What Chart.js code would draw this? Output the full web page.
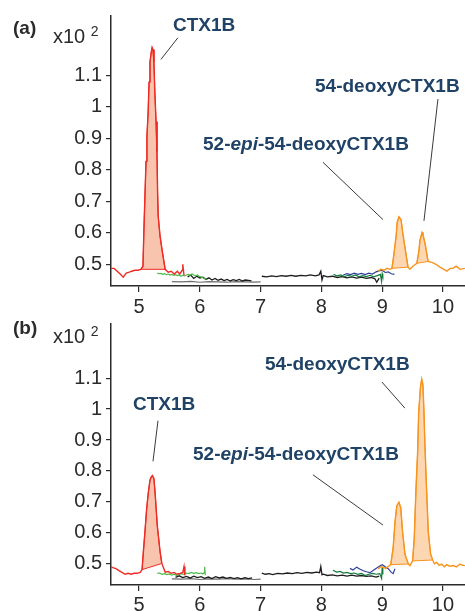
<!DOCTYPE html>
<html><head><meta charset="utf-8">
<script src="https://cdn.jsdelivr.net/npm/chart.js@4/dist/chart.umd.min.js"></script>
<style>
html,body{margin:0;padding:0;background:#fff;}
#wrap{position:relative;width:465px;height:611px;overflow:hidden;font-family:"Liberation Sans",Arial,sans-serif;}
canvas{position:absolute;left:0;}
.lbl{position:absolute;white-space:nowrap;line-height:1;}
.ann{font-weight:bold;font-size:19px;color:#1f4266;}
.pan{font-weight:bold;font-size:19px;color:#2b2b2b;}
.mult{font-size:20px;color:#2b2b2b;}
.mult span{font-size:14px;position:relative;top:-7px;}
</style></head>
<body>
<div id="wrap">
<canvas id="cA" width="465" height="320" style="top:0"></canvas>
<canvas id="cB" width="465" height="303" style="top:308px"></canvas>
<div class="lbl pan" style="left:13px;top:18px">(a)</div>
<div class="lbl mult" style="left:53px;top:26px">x10 <span>2</span></div>
<div class="lbl ann" style="left:173px;top:15px">CTX1B</div>
<div class="lbl ann" style="left:315px;top:76px">54-deoxyCTX1B</div>
<div class="lbl ann" style="left:203px;top:134px">52-<i>epi</i>-54-deoxyCTX1B</div>
<div class="lbl pan" style="left:13px;top:318px">(b)</div>
<div class="lbl mult" style="left:53px;top:326px">x10 <span>2</span></div>
<div class="lbl ann" style="left:133px;top:394px">CTX1B</div>
<div class="lbl ann" style="left:265px;top:354px">54-deoxyCTX1B</div>
<div class="lbl ann" style="left:193px;top:444px">52-<i>epi</i>-54-deoxyCTX1B</div>
</div>
<script>
// ---------- axis ticks ----------
const xTicks = [5, 6, 7, 8, 9, 10];
const yTicks = [0.5, 0.6, 0.7, 0.8, 0.9, 1.0, 1.1];

// ---------- panel (a) ----------
const redA_x = [4.54,4.59,4.64,4.69,4.74,4.79,4.84,4.88,4.93,4.98,5.03,5.065,5.08,5.10,5.115,5.13,5.15,5.165,5.18,5.20,5.215,5.23,5.245,5.26,5.28,5.295,5.305,5.315,5.345,5.38,5.43,5.48,5.53,5.58,5.63,5.67,5.71,5.72,5.74];
const redA_y = [0.487,0.487,0.478,0.469,0.459,0.472,0.475,0.478,0.481,0.481,0.484,0.494,0.607,0.733,0.827,0.906,0.984,1.079,1.142,1.173,1.189,1.182,1.142,1.047,0.953,0.858,0.733,0.654,0.591,0.544,0.484,0.475,0.478,0.469,0.478,0.469,0.481,0.5,0.465];
const redA_peaks = [[10, 30]];

const orangeA_x = [8.93,8.98,9.03,9.08,9.13,9.16,9.19,9.23,9.245,9.275,9.31,9.34,9.375,9.425,9.455,9.505,9.57,9.605,9.62,9.655,9.67,9.705,9.755,9.82,9.885,9.95,10.015,10.065,10.115,10.165,10.215,10.28,10.36];
const orangeA_y = [0.478,0.484,0.481,0.487,0.484,0.487,0.528,0.591,0.632,0.651,0.642,0.597,0.553,0.491,0.484,0.494,0.503,0.544,0.575,0.601,0.594,0.566,0.509,0.506,0.5,0.491,0.484,0.478,0.487,0.487,0.494,0.484,0.487];
const orangeA_peaks = [[5, 13], [16, 22]];

const greenA_x = [5.30,5.33,5.36,5.39,5.42,5.45,5.48,5.51,5.54,5.57,5.60,5.63,5.66,5.69,5.72,5.75,5.78,5.81,5.84,5.87,5.90,5.93,5.96,5.99,6.02,6.05,6.08,6.11];
const greenA_y = [0.472,0.470,0.471,0.468,0.470,0.467,0.469,0.466,0.468,0.465,0.467,0.464,0.466,0.462,0.465,0.463,0.466,0.468,0.465,0.469,0.466,0.463,0.466,0.462,0.460,0.457,0.455,0.452];

const blackFlatA_x = [5.54,5.70,5.85,6.00,6.15,6.30,6.45,6.60,6.75,6.90,7.00];
const blackFlatA_y = [0.445,0.444,0.446,0.443,0.445,0.444,0.443,0.445,0.444,0.443,0.444];

const blackNoisyA_x = [5.80,5.85,5.90,5.95,6.00,6.05,6.10,6.15,6.20,6.25,6.30,6.35,6.40,6.45,6.50,6.55,6.60,6.65,6.70,6.75,6.80,6.85];
const blackNoisyA_y = [0.460,0.466,0.455,0.462,0.456,0.459,0.452,0.457,0.450,0.455,0.449,0.453,0.448,0.452,0.447,0.451,0.448,0.452,0.447,0.450,0.449,0.447];

const blackA2_x = [7.02,7.10,7.18,7.26,7.34,7.42,7.50,7.58,7.66,7.74,7.82,7.90,7.96,7.99,8.01,8.03,8.10,8.18,8.26,8.34,8.42,8.50,8.58,8.66,8.74,8.82,8.88,8.91,8.95];
const blackA2_y = [0.462,0.460,0.463,0.461,0.464,0.462,0.465,0.462,0.465,0.463,0.466,0.463,0.466,0.478,0.450,0.464,0.460,0.462,0.458,0.461,0.457,0.460,0.456,0.459,0.455,0.458,0.454,0.443,0.456];

const darkGreenA_x = [8.20,8.26,8.32,8.38,8.44,8.50,8.56,8.62,8.68,8.74,8.80,8.86,8.92,8.97,8.99,9.00,9.01];
const darkGreenA_y = [0.468,0.463,0.466,0.461,0.465,0.462,0.466,0.460,0.464,0.461,0.465,0.460,0.464,0.468,0.445,0.470,0.462];

const blueA_x = [8.36,8.42,8.48,8.54,8.60,8.66,8.72,8.78,8.84,8.90,8.96,9.00,9.05,9.10,9.15,9.20];
const blueA_y = [0.466,0.470,0.467,0.472,0.468,0.471,0.467,0.472,0.469,0.476,0.480,0.481,0.474,0.476,0.470,0.468];

// leader lines (x1,y1,x2,y2 in data units)
const leadersA = [[5.64,1.220,5.36,1.151],[9.917,1.025,9.687,0.638],[8.026,0.824,9.013,0.642]];

// ---------- panel (b) ----------
const redB_x = [4.54,4.57,4.62,4.67,4.72,4.77,4.82,4.87,4.92,4.97,5.02,5.05,5.07,5.10,5.125,5.15,5.18,5.20,5.22,5.245,5.265,5.30,5.345,5.375,5.43,5.48,5.53,5.575,5.625,5.675,5.72,5.74,5.755];
const redB_y = [0.49,0.4875,0.484,0.478,0.472,0.466,0.469,0.466,0.469,0.469,0.472,0.481,0.535,0.61,0.676,0.725,0.77,0.78,0.785,0.775,0.728,0.624,0.541,0.501,0.473,0.475,0.469,0.472,0.466,0.469,0.472,0.491,0.4625];
const redB_peaks = [[11, 23]];

const orangeB_x = [8.935,8.975,9.017,9.06,9.10,9.14,9.18,9.21,9.24,9.275,9.305,9.335,9.375,9.43,9.457,9.50,9.527,9.555,9.583,9.60,9.63,9.65,9.67,9.687,9.703,9.72,9.758,9.797,9.83,9.86,9.896,9.94,9.978,10.02,10.06,10.11,10.17,10.22,10.28,10.32,10.36];
const orangeB_y = [0.483,0.49,0.488,0.485,0.491,0.497,0.551,0.634,0.687,0.699,0.681,0.603,0.53,0.499,0.494,0.509,0.582,0.738,0.863,0.988,1.072,1.097,1.078,0.991,0.884,0.791,0.603,0.531,0.512,0.50,0.504,0.495,0.499,0.49,0.497,0.492,0.494,0.49,0.499,0.495,0.494];
const orangeB_peaks = [[5, 13], [15, 28]];

const greenB_x = [5.30,5.34,5.38,5.42,5.46,5.50,5.54,5.58,5.62,5.66,5.70,5.74,5.78,5.82,5.86,5.90,5.94,5.98,6.02,6.05,6.07,6.08,6.09];
const greenB_y = [0.469,0.470,0.466,0.468,0.465,0.467,0.463,0.466,0.462,0.465,0.468,0.466,0.470,0.468,0.472,0.469,0.471,0.468,0.470,0.467,0.471,0.490,0.463];

const blackFlatB_x = [5.54,5.70,5.85,6.00,6.15,6.30,6.45,6.60,6.75,6.90,7.00];
const blackFlatB_y = [0.451,0.450,0.452,0.449,0.451,0.450,0.452,0.450,0.451,0.449,0.450];

const blackNoisyB_x = [5.60,5.66,5.72,5.78,5.84,5.90,5.96,6.02,6.08,6.14,6.20,6.26,6.32,6.38,6.44,6.50,6.56,6.62,6.68,6.74,6.80,6.86];
const blackNoisyB_y = [0.456,0.461,0.455,0.459,0.454,0.460,0.455,0.458,0.453,0.457,0.452,0.458,0.454,0.457,0.453,0.456,0.452,0.455,0.451,0.455,0.452,0.454];

const blackB2_x = [7.02,7.08,7.14,7.20,7.28,7.36,7.44,7.52,7.60,7.68,7.76,7.84,7.92,7.97,7.99,8.01,8.03,8.10,8.18,8.26,8.34,8.42,8.50,8.58,8.66,8.74,8.82,8.90,8.95];
const blackB2_y = [0.470,0.466,0.468,0.465,0.469,0.467,0.470,0.468,0.471,0.469,0.472,0.470,0.473,0.471,0.491,0.464,0.466,0.462,0.464,0.461,0.463,0.460,0.463,0.460,0.462,0.459,0.461,0.457,0.460];

const darkGreenB_x = [8.19,8.25,8.31,8.36,8.42,8.48,8.54,8.60,8.66,8.72,8.78,8.84,8.90,8.96,8.99,9.00,9.01];
const darkGreenB_y = [0.479,0.473,0.475,0.470,0.472,0.468,0.470,0.466,0.469,0.462,0.466,0.469,0.466,0.468,0.452,0.490,0.465];

const blueB_x = [8.47,8.52,8.58,8.63,8.68,8.74,8.80,8.85,8.91,8.96,9.00,9.05,9.10,9.15,9.18,9.21];
const blueB_y = [0.485,0.480,0.489,0.483,0.478,0.474,0.471,0.478,0.486,0.493,0.497,0.490,0.484,0.472,0.468,0.484];

const leadersB = [[5.312,0.9625,5.23,0.831],[8.995,1.0875,9.373,1.003],[7.861,0.7875,9.013,0.625]];

// ---------- styling ----------
const C = {red:'#ee2b25', redFill:'#f9c4ae', orange:'#f7941d', orangeFill:'#fdd6b2',
           green:'#4cb848', darkGreen:'#127a3a', blue:'#2e3f9b', black:'#1c1c1c', gray:'#6e6e6e', axis:'#2b2b2b'};
const FONT = '"Liberation Sans", Arial, sans-serif';

function trace(xs, ys, color, w) {
  return {data: xs.map((v, i) => ({x: v, y: ys[i]})), borderColor: color, borderWidth: w,
          pointRadius: 0, showLine: true, fill: false, tension: 0};
}
function peakShapes(xs, ys, ranges, line, fillc) {
  return ranges.map(([i0, i1]) => {
    const pts = [];
    for (let i = i0; i <= i1; i++) pts.push({x: xs[i], y: ys[i]});
    pts.push({x: xs[i0], y: ys[i0]});
    return {data: pts, borderColor: line, borderWidth: 1, backgroundColor: fillc, fill: 'shape',
            pointRadius: 0, showLine: true, tension: 0};
  });
}

const leaderPlugin = {
  id: 'leaders',
  afterDatasetsDraw(chart, args, opts) {
    const {ctx, scales: {x, y}} = chart;
    ctx.save();
    ctx.strokeStyle = '#3a3a3a';
    ctx.lineWidth = 1;
    (opts.lines || []).forEach(l => {
      ctx.beginPath();
      ctx.moveTo(x.getPixelForValue(l[0]), y.getPixelForValue(l[1]));
      ctx.lineTo(x.getPixelForValue(l[2]), y.getPixelForValue(l[3]));
      ctx.stroke();
    });
    ctx.restore();
  }
};

function makeChart(id, datasets, padTop, xHeight, xPad, yMin, yMax, lines) {
  return new Chart(document.getElementById(id), {
    type: 'scatter',
    data: {datasets},
    options: {
      responsive: false, animation: false, devicePixelRatio: 1,
      layout: {padding: {top: padTop, left: 0, right: 0, bottom: 0}},
      plugins: {legend: {display: false}, tooltip: {enabled: false}, leaders: {lines}},
      scales: {
        x: {
          type: 'linear', min: 4.539, max: 10.362,
          afterBuildTicks: s => { s.ticks = xTicks.map(v => ({value: v})); },
          afterFit: s => { s.height = xHeight; },
          grid: {drawOnChartArea: false, drawTicks: true, tickLength: 6, color: C.axis, lineWidth: 1.2},
          border: {display: true, color: C.axis, width: 1.5},
          ticks: {font: {size: 20, family: FONT}, color: C.axis, padding: xPad, maxRotation: 0,
                  callback: v => String(v)}
        },
        y: {
          type: 'linear', min: yMin, max: yMax,
          afterBuildTicks: s => { s.ticks = yTicks.map(v => ({value: v})); },
          afterFit: s => { s.width = 111; },
          grid: {drawOnChartArea: false, drawTicks: true, tickLength: 5, color: C.axis, lineWidth: 1.2},
          border: {display: true, color: C.axis, width: 1.5},
          ticks: {font: {size: 20, family: FONT}, color: C.axis, padding: 4,
                  callback: v => String(Math.round(v * 10) / 10)}
        }
      }
    },
    plugins: [leaderPlugin]
  });
}

const dsA = [
  trace(redA_x, redA_y, C.red, 1.4),
  trace(orangeA_x, orangeA_y, C.orange, 1.4),
  trace(blueA_x, blueA_y, C.blue, 1.2),
  trace(darkGreenA_x, darkGreenA_y, C.darkGreen, 1.2),
  trace(greenA_x, greenA_y, C.green, 1.2),
  trace(blackA2_x, blackA2_y, C.black, 1.3),
  trace(blackNoisyA_x, blackNoisyA_y, C.black, 1.3),
  trace(blackFlatA_x, blackFlatA_y, C.gray, 1.2),
  ...peakShapes(redA_x, redA_y, redA_peaks, C.red, C.redFill),
  ...peakShapes(orangeA_x, orangeA_y, orangeA_peaks, C.orange, C.orangeFill)
];
const dsB = [
  trace(redB_x, redB_y, C.red, 1.4),
  trace(orangeB_x, orangeB_y, C.orange, 1.4),
  trace(blueB_x, blueB_y, C.blue, 1.2),
  trace(darkGreenB_x, darkGreenB_y, C.darkGreen, 1.2),
  trace(greenB_x, greenB_y, C.green, 1.2),
  trace(blackB2_x, blackB2_y, C.black, 1.3),
  trace(blackNoisyB_x, blackNoisyB_y, C.black, 1.3),
  trace(blackFlatB_x, blackFlatB_y, C.gray, 1.2),
  ...peakShapes(redB_x, redB_y, redB_peaks, C.red, C.redFill),
  ...peakShapes(orangeB_x, orangeB_y, orangeB_peaks, C.orange, C.orangeFill)
];

makeChart('cA', dsA, 12, 34, 3, 0.431, 1.289, leadersA);
makeChart('cB', dsB, 7, 26, 2, 0.43125, 1.275, leadersB);
</script>
</body></html>
